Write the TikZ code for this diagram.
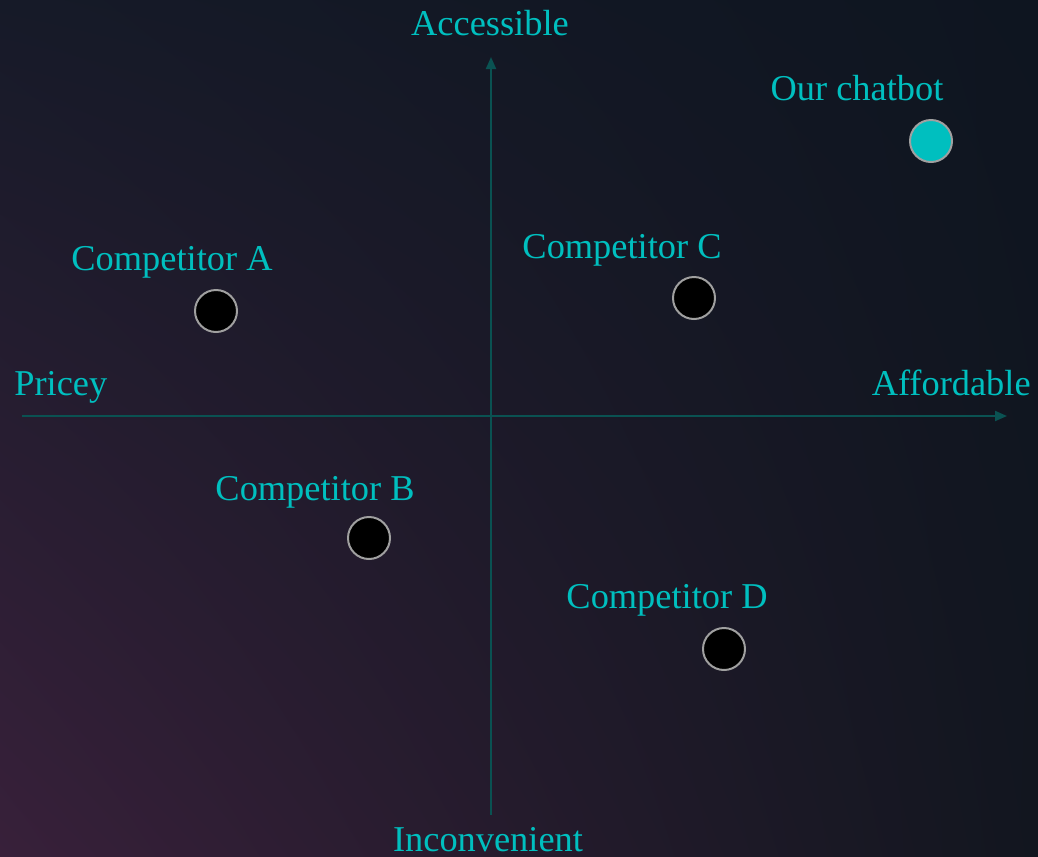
\documentclass[tikz,border=0pt]{standalone}
\usepackage{fontspec}
\setmainfont{Liberation Serif}
\usepackage{xcolor}
\usepackage{tikz}
\usetikzlibrary{arrows.meta,shadings}
\definecolor{bgtop}{HTML}{0E1520}
\definecolor{bgleft}{HTML}{161A28}
\definecolor{bgcorner}{HTML}{38203A}
\definecolor{bglow}{HTML}{12161F}
\definecolor{mapteal}{HTML}{00BFBF}
\definecolor{axisteal}{HTML}{0A5252}
\definecolor{ringgray}{HTML}{A0A0A0}

\begin{document}
\begin{tikzpicture}[
    x=0.02cm, y=-0.02cm,
    every node/.style={font=\fontsize{20.7pt}{24pt}\selectfont, text=mapteal, inner sep=0pt},
    axis/.style={-{Triangle[length=0.24cm, width=0.2cm]}, line width=0.04cm, draw=axisteal},
    lbl/.style={anchor=base},
    rival/.style={circle, draw=ringgray, fill=black, line width=0.04cm, minimum size=0.84cm},
    ours/.style={rival, fill=mapteal}
]
    \shade[upper left=bgleft, upper right=bgtop, lower left=bgcorner, lower right=bglow]
        (0,0) rectangle (1038,856);
    \useasboundingbox (0,0) rectangle (1038,856);

    % axes
    \coordinate (xlo) at (22,416);
    \coordinate (xhi) at (1007,416);
    \coordinate (ylo) at (491,815);
    \coordinate (yhi) at (491,57);
    \draw[axis] (xlo) -- (xhi);
    \draw[axis] (ylo) -- (yhi);

    \node[lbl] (top) at (490,35) {Accessible};
    \node[lbl] (bottom) at (488,851) {Inconvenient};
    \node[lbl, anchor=base west] (left) at (14,395) {Pricey};
    \node[lbl, anchor=base east] (right) at (1031,395) {Affordable};

    % players
    \node[ours] (us) at (931,141) {};
    \node[lbl] (uslbl) at (857,100) {Our chatbot};
    \node[rival] (compa) at (216,311) {};
    \node[lbl] (compalbl) at (172,270) {Competitor A};
    \node[rival] (compc) at (694,298) {};
    \node[lbl] (compclbl) at (622,258) {Competitor C};
    \node[rival] (compb) at (369,538) {};
    \node[lbl] (compblbl) at (315,500) {Competitor B};
    \node[rival] (compd) at (724,649) {};
    \node[lbl] (compdlbl) at (667,608) {Competitor D};
\end{tikzpicture}
\end{document}
